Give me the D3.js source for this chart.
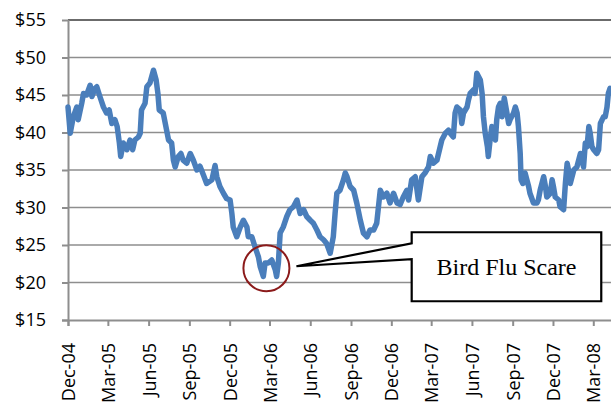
<!DOCTYPE html>
<html>
<head>
    <meta charset="utf-8">
    <style>
        body { margin: 0; background: #fff; }
        .tick text { font-family: "Open Sans", sans-serif; font-size: 18px; fill: #000; }
        .note { font-family: "Liberation Serif", "Times New Roman", serif; font-size: 24px; }
    </style>
</head>
<body>
    <script src="https://d3js.org/d3.v7.min.js"></script>
    <script>
        const width = 611;
        const height = 404;
        const margin = {top: 20, right: 0, bottom: 84, left: 68};

        // tick labels
        const tickLabels = ["Dec-04", "Mar-05", "Jun-05", "Sep-05", "Dec-05", "Mar-06", "Jun-06",
            "Sep-06", "Dec-06", "Mar-07", "Jun-07", "Sep-07", "Dec-07", "Mar-08"];
        const yTicks = [15, 20, 25, 30, 35, 40, 45, 50, 55];

        // price series
        const dates = [
            "2004-12-01", "2004-12-06", "2004-12-13", "2004-12-21", "2004-12-24", "2005-01-01", "2005-01-05", "2005-01-12",
            "2005-01-20", "2005-01-24", "2005-01-31", "2005-02-04", "2005-02-11", "2005-02-19", "2005-02-26", "2005-03-04",
            "2005-03-10", "2005-03-17", "2005-03-22", "2005-03-27", "2005-03-30", "2005-04-05", "2005-04-13", "2005-04-20",
            "2005-04-26", "2005-05-01", "2005-05-09", "2005-05-13", "2005-05-16", "2005-05-24", "2005-05-28", "2005-06-04",
            "2005-06-12", "2005-06-18", "2005-06-22", "2005-06-25", "2005-07-04", "2005-07-10", "2005-07-16", "2005-07-23",
            "2005-07-27", "2005-07-31", "2005-08-07", "2005-08-13", "2005-08-18", "2005-08-26", "2005-09-03", "2005-09-10",
            "2005-09-18", "2005-09-25", "2005-10-03", "2005-10-10", "2005-10-22", "2005-10-29", "2005-11-02", "2005-11-09",
            "2005-11-17", "2005-11-24", "2005-12-02", "2005-12-06", "2005-12-09", "2005-12-17", "2005-12-25", "2006-01-01",
            "2006-01-09", "2006-01-12", "2006-01-20", "2006-01-27", "2006-02-04", "2006-02-08", "2006-02-15", "2006-02-19",
            "2006-02-26", "2006-03-06", "2006-03-14", "2006-03-17", "2006-03-21", "2006-03-25", "2006-04-01", "2006-04-09",
            "2006-04-16", "2006-04-24", "2006-05-02", "2006-05-09", "2006-05-17", "2006-05-24", "2006-06-01", "2006-06-08",
            "2006-06-16", "2006-06-23", "2006-07-01", "2006-07-08", "2006-07-16", "2006-07-23", "2006-07-27", "2006-07-31",
            "2006-08-07", "2006-08-15", "2006-08-19", "2006-08-23", "2006-08-30", "2006-09-07", "2006-09-14", "2006-09-22",
            "2006-09-29", "2006-10-07", "2006-10-14", "2006-10-22", "2006-10-29", "2006-11-06", "2006-11-13", "2006-11-21",
            "2006-11-28", "2006-12-06", "2006-12-14", "2006-12-21", "2006-12-28", "2007-01-05", "2007-01-09", "2007-01-16",
            "2007-01-24", "2007-01-31", "2007-02-08", "2007-02-15", "2007-02-23", "2007-02-27", "2007-03-06", "2007-03-14",
            "2007-03-25", "2007-04-02", "2007-04-09", "2007-04-13", "2007-04-20", "2007-04-24", "2007-04-28", "2007-05-06",
            "2007-05-09", "2007-05-13", "2007-05-21", "2007-05-24", "2007-05-28", "2007-06-05", "2007-06-08", "2007-06-12",
            "2007-06-20", "2007-06-24", "2007-06-27", "2007-07-01", "2007-07-06", "2007-07-08", "2007-07-12", "2007-07-16",
            "2007-07-20", "2007-07-24", "2007-07-27", "2007-07-31", "2007-08-04", "2007-08-08", "2007-08-13", "2007-08-19",
            "2007-08-23", "2007-08-26", "2007-09-03", "2007-09-07", "2007-09-11", "2007-09-14", "2007-09-18", "2007-09-20",
            "2007-09-24", "2007-09-29", "2007-10-03", "2007-10-07", "2007-10-10", "2007-10-18", "2007-10-26", "2007-10-29",
            "2007-11-02", "2007-11-10", "2007-11-14", "2007-11-17", "2007-11-25", "2007-11-29", "2007-12-02", "2007-12-06",
            "2007-12-14", "2007-12-17", "2007-12-25", "2007-12-29", "2008-01-02", "2008-01-05", "2008-01-09", "2008-01-17",
            "2008-01-24", "2008-02-01", "2008-02-08", "2008-02-12", "2008-02-16", "2008-02-20", "2008-02-23", "2008-02-27",
            "2008-03-02", "2008-03-09", "2008-03-13", "2008-03-17", "2008-03-21", "2008-03-24", "2008-03-28", "2008-04-01",
            "2008-04-04", "2008-04-08"
        ];
        const prices = [
            43.4, 39.9, 42.1, 43.4, 41.7, 43.9, 45.2, 45.0,
            46.3, 44.8, 45.9, 46.1, 44.8, 43.4, 42.6, 43.0,
            41.2, 41.7, 40.8, 38.6, 36.8, 38.6, 37.7, 39.0,
            37.7, 39.0, 39.4, 39.9, 43.0, 43.9, 46.1, 46.6,
            48.3, 47.0, 45.2, 43.0, 42.6, 40.8, 39.0, 38.6,
            36.3, 35.4, 36.8, 37.2, 36.3, 35.9, 37.2, 36.3,
            35.0, 35.5, 34.3, 33.2, 33.7, 35.6, 34.1, 32.8,
            31.9, 31.2, 31.0, 29.2, 27.4, 26.1, 27.4, 28.3,
            27.4, 26.1, 26.1, 24.8, 23.4, 22.1, 20.8, 22.6,
            22.6, 23.0, 21.7, 20.8, 22.6, 26.6, 27.4, 28.8,
            29.7, 30.1, 31.0, 29.2, 29.7, 28.8, 28.3, 27.9,
            27.0, 26.1, 25.7, 25.2, 23.9, 26.1, 29.2, 31.9,
            32.3, 33.7, 34.6, 34.1, 32.8, 32.3, 30.6, 28.3,
            26.6, 26.1, 27.0, 27.0, 27.9, 32.3, 31.4, 31.9,
            30.6, 31.9, 30.6, 30.4, 31.4, 32.3, 31.0, 33.7,
            34.1, 31.0, 34.1, 34.6, 35.4, 36.8, 35.9, 36.3,
            39.0, 39.9, 40.3, 39.9, 39.4, 42.6, 43.4, 43.0,
            41.2, 42.6, 43.4, 44.3, 45.2, 45.7, 45.2, 47.9,
            47.0, 45.2, 42.1, 39.9, 38.1, 36.8, 39.0, 40.8,
            39.9, 39.0, 41.7, 43.4, 43.9, 42.1, 44.6, 42.6,
            41.2, 41.7, 42.6, 43.4, 42.6, 40.8, 37.2, 33.7,
            33.2, 34.6, 33.7, 32.8, 31.9, 30.6, 30.6, 31.0,
            32.3, 34.1, 32.8, 31.4, 31.9, 33.7, 32.8, 31.4,
            31.0, 30.1, 29.7, 33.2, 35.9, 35.0, 33.2, 35.0,
            35.4, 37.2, 35.4, 38.6, 38.1, 40.8, 39.9, 38.1,
            37.7, 37.2, 37.7, 41.2, 41.7, 42.1, 42.1, 43.4,
            45.2, 45.9
        ];

        // annotation (in data units)
        const noteDate = "2006-02-22";
        const noteValue = 21.9;
        const noteText = "Bird Flu Scare";
        const boxDates = ["2007-01-16", "2008-03-19"];
        const boxValues = [26.7, 17.5];

        const parse = d3.timeParse("%Y-%m-%d");
        const parseTick = d3.timeParse("%b-%y");
        const data = dates.map((d, i) => ({date: parse(d), value: prices[i]}));

        const svg = d3.select("body").append("svg")
            .attr("width", width).attr("height", height);

        const x = d3.scaleTime()
            .domain([parse("2004-12-01"), parse("2008-04-10")])
            .range([margin.left, width - margin.right]);
        const y = d3.scaleLinear()
            .domain([15, 55])
            .range([height - margin.bottom, margin.top]);

        // gridlines
        svg.append("g")
            .selectAll("line").data(yTicks.filter(d => d > 15)).enter().append("line")
                .attr("x1", margin.left).attr("x2", width - margin.right)
                .attr("y1", d => y(d)).attr("y2", d => y(d))
                .attr("stroke", d => d == 55 ? "#6b6b6b" : "#8e8e8e")
                .attr("stroke-width", d => d == 55 ? 2 : 1.6);

        // x axis
        const xAxis = svg.append("g")
            .attr("transform", `translate(0,${y(15)})`)
            .call(d3.axisBottom(x)
                .tickValues(tickLabels.map(parseTick))
                .tickFormat(d3.timeFormat("%b-%y"))
                .tickSize(6).tickSizeOuter(0));
        xAxis.select(".domain").attr("stroke", "#8e8e8e").attr("stroke-width", 2)
            .attr("d", `M${margin.left - 6},0.5H${width}`);
        xAxis.selectAll(".tick line").attr("stroke", "#8e8e8e").attr("stroke-width", 2);
        xAxis.selectAll(".tick text")
            .attr("transform", "rotate(-90)")
            .attr("text-anchor", "end")
            .attr("x", -23).attr("y", 0).attr("dy", "0.36em");

        // y axis
        const yAxis = svg.append("g")
            .attr("transform", `translate(${margin.left},0)`)
            .call(d3.axisLeft(y)
                .tickValues(yTicks)
                .tickFormat(d => "$" + d)
                .tickSize(6).tickSizeOuter(0));
        yAxis.select(".domain").attr("stroke", "#8e8e8e").attr("stroke-width", 2)
            .attr("d", `M0.5,${margin.top}V${y(15) + 6}`);
        yAxis.selectAll(".tick line").attr("stroke", "#8e8e8e").attr("stroke-width", 2);
        yAxis.selectAll(".tick text").attr("x", -22);

        // price line
        const line = d3.line()
            .x(d => x(d.date))
            .y(d => y(d.value));
        svg.append("path")
            .datum(data)
            .attr("fill", "none")
            .attr("stroke", "#4a7ebb")
            .attr("stroke-width", 5.5)
            .attr("stroke-linejoin", "round")
            .attr("stroke-linecap", "round")
            .attr("d", line);

        // circle around the dip
        const cx = x(parse(noteDate)), cy = y(noteValue);
        svg.append("circle")
            .attr("cx", cx).attr("cy", cy).attr("r", 23)
            .attr("fill", "none").attr("stroke", "#8b1a1a").attr("stroke-width", 2);

        // callout box with pointer
        const bx0 = x(parse(boxDates[0])), bx1 = x(parse(boxDates[1]));
        const by0 = y(boxValues[0]), by1 = y(boxValues[1]);
        const tip = [cx + 30, cy - 2];
        svg.append("path")
            .attr("d", `M${bx0},${by0}H${bx1}V${by1}H${bx0}V${by0 + 27}L${tip[0]},${tip[1]}L${bx0},${by0 + 11}Z`)
            .attr("fill", "#fff").attr("stroke", "#000").attr("stroke-width", 2.2)
            .attr("stroke-linejoin", "miter");
        svg.append("text")
            .attr("class", "note")
            .attr("x", (bx0 + bx1) / 2).attr("y", (by0 + by1) / 2 + 8)
            .attr("text-anchor", "middle")
            .text(noteText);
    </script>
</body>
</html>
